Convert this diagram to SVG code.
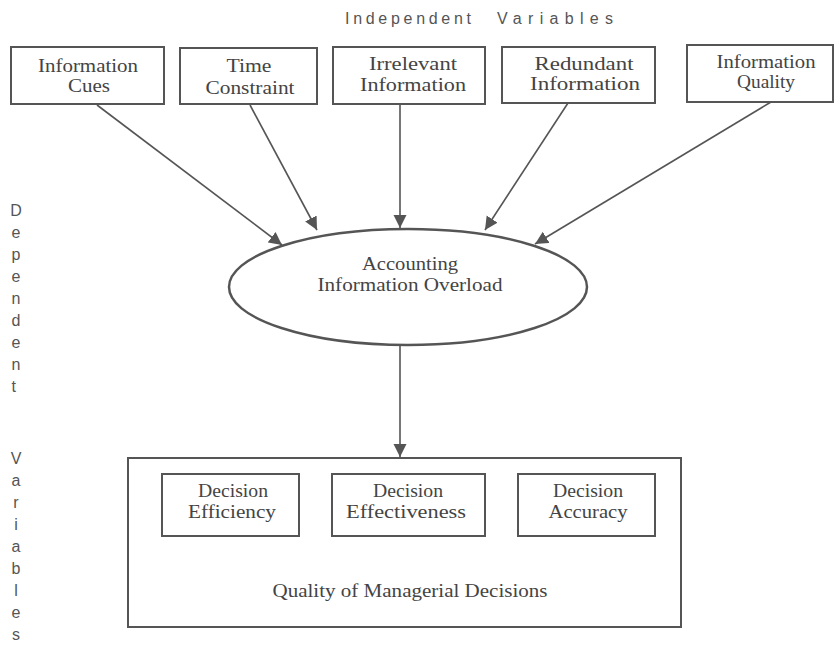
<svg xmlns="http://www.w3.org/2000/svg" width="834" height="650" viewBox="0 0 834 650">
<style>
.box{fill:none;stroke:#555;stroke-width:2}
.t{font-family:"Liberation Serif","Times New Roman",serif;font-size:18px;fill:#444;text-anchor:middle}
.s{font-family:"Liberation Sans",Arial,sans-serif;font-size:16px;fill:#555}
.c{stroke:#555;stroke-width:1.6;fill:none;marker-end:url(#ah)}
</style>
<defs>
<marker id="ah" markerUnits="userSpaceOnUse" markerWidth="14" markerHeight="14" refX="13" refY="6.5" orient="auto">
<path d="M0,0 L13,6.5 L0,13 Z" fill="#555"/>
</marker>
</defs>
<rect width="834" height="650" fill="#fff"/>
<g id="title">
<text class="s" x="345" y="24" textLength="126" lengthAdjust="spacing">Independent</text>
<text class="s" x="497" y="24" textLength="116" lengthAdjust="spacing">Variables</text>
</g>
<g id="side">
<text class="s" text-anchor="middle">
<tspan x="16" y="216">D</tspan><tspan x="16" y="238">e</tspan><tspan x="16" y="260">p</tspan><tspan x="16" y="282">e</tspan><tspan x="16" y="304">n</tspan><tspan x="16" y="326">d</tspan><tspan x="16" y="348">e</tspan><tspan x="16" y="370">n</tspan><tspan x="16" y="392">t</tspan>
<tspan x="16" y="464">V</tspan><tspan x="16" y="486">a</tspan><tspan x="16" y="508">r</tspan><tspan x="16" y="530">i</tspan><tspan x="16" y="552">a</tspan><tspan x="16" y="574">b</tspan><tspan x="16" y="596">l</tspan><tspan x="16" y="618">e</tspan><tspan x="16" y="640">s</tspan>
</text>
</g>
<g id="n1">
<rect class="box" x="11" y="47" width="153" height="57"/>
<text class="t" x="88" y="72" textLength="100" lengthAdjust="spacingAndGlyphs">Information</text>
<text class="t" x="89" y="92" textLength="42" lengthAdjust="spacingAndGlyphs">Cues</text>
</g>
<g id="n2">
<rect class="box" x="180" y="48" width="137" height="56"/>
<text class="t" x="249" y="72" textLength="45" lengthAdjust="spacingAndGlyphs">Time</text>
<text class="t" x="250" y="94" textLength="89" lengthAdjust="spacingAndGlyphs">Constraint</text>
</g>
<g id="n3">
<rect class="box" x="333" y="47" width="152" height="57"/>
<text class="t" x="413" y="70" textLength="88" lengthAdjust="spacingAndGlyphs">Irrelevant</text>
<text class="t" x="413" y="91" textLength="106" lengthAdjust="spacingAndGlyphs">Information</text>
</g>
<g id="n4">
<rect class="box" x="502" y="47" width="153" height="56"/>
<text class="t" x="584" y="70" textLength="99" lengthAdjust="spacingAndGlyphs">Redundant</text>
<text class="t" x="585" y="90" textLength="110" lengthAdjust="spacingAndGlyphs">Information</text>
</g>
<g id="n5">
<rect class="box" x="687" y="45" width="146" height="57"/>
<text class="t" x="766" y="68" textLength="99" lengthAdjust="spacingAndGlyphs">Information</text>
<text class="t" x="766" y="88" textLength="58" lengthAdjust="spacingAndGlyphs">Quality</text>
</g>
<g id="overload">
<ellipse cx="408" cy="287" rx="179" ry="58" fill="none" stroke="#555" stroke-width="2.5"/>
<text class="t" x="410" y="270" textLength="96" lengthAdjust="spacingAndGlyphs">Accounting</text>
<text class="t" x="410" y="291" textLength="185" lengthAdjust="spacingAndGlyphs">Information Overload</text>
</g>
<g id="quality">
<rect class="box" x="128" y="458" width="553" height="169" stroke-width="2.5"/>
<text class="t" x="410" y="597" textLength="275" lengthAdjust="spacingAndGlyphs">Quality of Managerial Decisions</text>
</g>
<g id="efficiency">
<rect class="box" x="162" y="474" width="137" height="62" stroke-width="1.5"/>
<text class="t" x="233" y="497" textLength="70" lengthAdjust="spacingAndGlyphs">Decision</text>
<text class="t" x="232" y="518" textLength="88" lengthAdjust="spacingAndGlyphs">Efficiency</text>
</g>
<g id="effectiveness">
<rect class="box" x="332" y="474" width="153" height="62" stroke-width="1.5"/>
<text class="t" x="408" y="497" textLength="70" lengthAdjust="spacingAndGlyphs">Decision</text>
<text class="t" x="406" y="518" textLength="120" lengthAdjust="spacingAndGlyphs">Effectiveness</text>
</g>
<g id="accuracy">
<rect class="box" x="518" y="474" width="137" height="62" stroke-width="1.5"/>
<text class="t" x="588" y="497" textLength="70" lengthAdjust="spacingAndGlyphs">Decision</text>
<text class="t" x="588" y="518" textLength="79" lengthAdjust="spacingAndGlyphs">Accuracy</text>
</g>
<g id="connectors">
<line class="c" x1="97" y1="105" x2="282" y2="245"/>
<line class="c" x1="250" y1="105" x2="317" y2="230"/>
<line class="c" x1="400" y1="105" x2="400" y2="228"/>
<line class="c" x1="568" y1="103" x2="485" y2="230"/>
<line class="c" x1="771" y1="102" x2="535" y2="244"/>
<line class="c" x1="400" y1="345" x2="400" y2="457"/>
</g>
</svg>
